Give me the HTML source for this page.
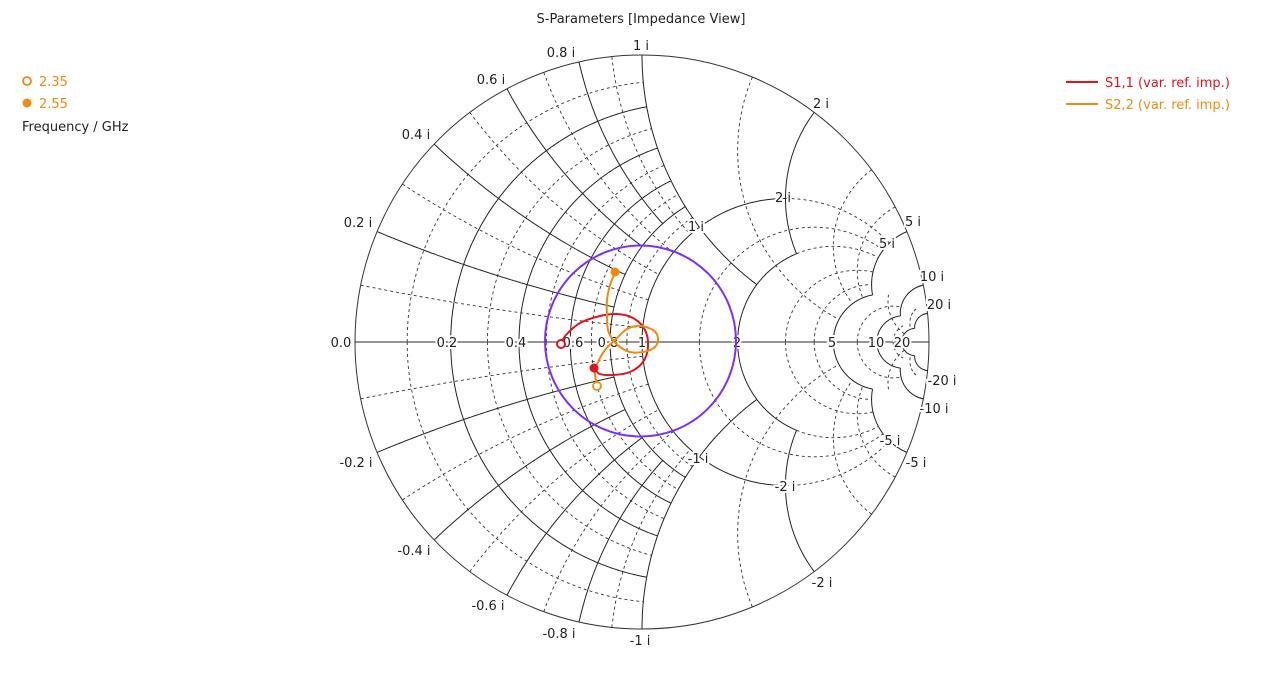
<!DOCTYPE html>
<html><head><meta charset="utf-8">
<style>
html,body{margin:0;padding:0;background:#fff;}
svg{display:block;}
text{font-family:"DejaVu Sans","Liberation Sans",sans-serif;font-size:13px;}
</style></head>
<body>
<svg id="s" width="1280" height="682" viewBox="0 0 1280 682" xmlns="http://www.w3.org/2000/svg">
<rect width="1280" height="682" fill="#fff"/>
<g id="grid" fill="none"></g>
<line x1="355" y1="342" x2="929" y2="342" stroke="#555" stroke-width="1.2"/>
<circle cx="642" cy="342" r="287" fill="none" stroke="#333" stroke-width="1"/>
<g id="lbl" fill="#222" stroke="#fff" stroke-width="4" paint-order="stroke" text-anchor="middle"></g>
<circle cx="640.5" cy="341" r="95.5" fill="none" stroke="#7b2fff" stroke-width="2"/>
<path id="p1" fill="none" stroke="#e0141e" stroke-width="2" stroke-linejoin="round"/>
<path id="p2" fill="none" stroke="#f08a10" stroke-width="2" stroke-linejoin="round"/>
<circle cx="561" cy="344" r="4" fill="#fff" stroke="#e0141e" stroke-width="2"/>
<circle cx="594" cy="368" r="4.5" fill="#e0141e"/>
<circle cx="615" cy="272" r="4.5" fill="#f08a10"/>
<circle cx="597" cy="386" r="4" fill="#fff" stroke="#f08a10" stroke-width="1.8"/>
<text x="641" y="23" text-anchor="middle" fill="#222">S-Parameters [Impedance View]</text>
<circle cx="27" cy="81" r="4" fill="none" stroke="#f08a10" stroke-width="1.8"/>
<text x="39" y="86" fill="#f08a10">2.35</text>
<circle cx="27" cy="103" r="4.5" fill="#f08a10"/>
<text x="39" y="108" fill="#f08a10">2.55</text>
<text x="22" y="131" fill="#222">Frequency / GHz</text>
<line x1="1066" y1="82" x2="1098" y2="82" stroke="#e0141e" stroke-width="2"/>
<text x="1105" y="87" fill="#e0141e">S1,1 (var. ref. imp.)</text>
<line x1="1066" y1="104" x2="1098" y2="104" stroke="#f08a10" stroke-width="2"/>
<text x="1105" y="109" fill="#f08a10">S2,2 (var. ref. imp.)</text>
</svg>
<script>
(function(){
var cx=642,cy=342,R=287,NS="http://www.w3.org/2000/svg";
function G(r,x){var a=r-1,c=r+1,den=c*c+x*x;var gr=(a*c+x*x)/den,gi=(x*c-a*x)/den;return [cx+R*gr,cy-R*gi];}
var g=document.getElementById('grid');
function path(pts,dash){var d='M'+pts.map(function(p){return p[0].toFixed(1)+','+p[1].toFixed(1);}).join('L');
var e=document.createElementNS(NS,'path');e.setAttribute('d',d);e.setAttribute('stroke',dash?'#333':'#222');
e.setAttribute('stroke-width',dash?'0.9':'1');if(dash)e.setAttribute('stroke-dasharray','3,3');g.appendChild(e);}
function rc(r,x0,x1,dash){[1,-1].forEach(function(s){var pts=[],a=Math.atan(x0),b=Math.atan(x1),N=160;for(var i=0;i<=N;i++){pts.push(G(r,s*Math.tan(a+(b-a)*i/N)));}path(pts,dash);});}
function xa(x,r0,r1,dash){[x,-x].forEach(function(xx){var pts=[],a=Math.atan(r0),b=Math.atan(r1),N=200;for(var i=0;i<=N;i++){pts.push(G(Math.tan(a+(b-a)*i/N),xx));}path(pts,dash);});}
[0.2,0.4,0.6,0.8].forEach(function(r){rc(r,0,1,false);});
[0.1,0.3,0.5,0.7,0.9].forEach(function(r){rc(r,0,1,true);});
rc(1,0,2,false);rc(1,2,5,true);rc(2,0,2,false);rc(2,2,5,true);rc(5,0,5,false);rc(10,0,10,false);rc(20,0,20,false);
[1.5,3,4].forEach(function(r){rc(r,0,5,true);});
[7,15].forEach(function(r){rc(r,0,10,true);});
[0.2,0.4,0.6,0.8].forEach(function(x){xa(x,0,0.8,false);});
[0.1,0.3,0.5,0.7,0.9].forEach(function(x){xa(x,0,1,true);});
xa(1,0,2,false);xa(2,0,2,false);xa(5,0,5,false);xa(10,0,10,false);xa(20,0,20,false);
[1.5,3,4].forEach(function(x){xa(x,0,5,true);});
[7,15].forEach(function(x){xa(x,5,20,true);});
var L=document.getElementById('lbl');
function T(s,x,y){var e=document.createElementNS(NS,'text');e.setAttribute('x',x);e.setAttribute('y',y);e.textContent=s;L.appendChild(e);}
var lab=[["1 i",641,50],["0.8 i",561,57],["0.6 i",491,84],["0.4 i",416,139],["0.2 i",358,227],["0.0",341,347],["-0.2 i",356,467],["-0.4 i",414,555],["-0.6 i",488,610],["-0.8 i",559,638],["-1 i",640,645],
["2 i",821,108],["5 i",913,226],["10 i",932,281],["20 i",939,309],["-20 i",942,385],["-10 i",934,413],["-5 i",916,467],["-2 i",822,587],
["1 i",696,231],["2 i",783,202],["5 i",887,248],["-1 i",698,463],["-2 i",785,491],["-5 i",890,445],
["0.2",447,347],["0.4",516,347],["0.6",573,347],["0.8",608,347],["1",642,347],["2",737,347],["5",832,347],["10",876,347],["20",902,347]];
lab.forEach(function(a){T(a[0],a[1],a[2]);});
function cr(P){var d='M'+P[0][0]+','+P[0][1];for(var i=0;i<P.length-1;i++){var p0=P[Math.max(i-1,0)],p1=P[i],p2=P[i+1],p3=P[Math.min(i+2,P.length-1)];
d+='C'+(p1[0]+(p2[0]-p0[0])/6).toFixed(1)+','+(p1[1]+(p2[1]-p0[1])/6).toFixed(1)+' '+(p2[0]-(p3[0]-p1[0])/6).toFixed(1)+','+(p2[1]-(p3[1]-p1[1])/6).toFixed(1)+' '+p2[0]+','+p2[1];}return d;}
document.getElementById('p1').setAttribute('d',cr([[561,344],[566,335],[580,323],[600,316],[617,314],[633,318],[645,330],[648,347],[643,362],[630,372],[613,375],[600,374],[594,368]]));
document.getElementById('p2').setAttribute('d',cr([[615,273],[610,285],[607,300],[607,315],[608,330],[613,340],[620,347],[630,352],[643,352],[655,347],[658,338],[653,330],[640,326],[627,329],[615,340],[605,350],[598,362],[595,372],[596,381],[597,386]]));
})();
</script>
</body></html>
